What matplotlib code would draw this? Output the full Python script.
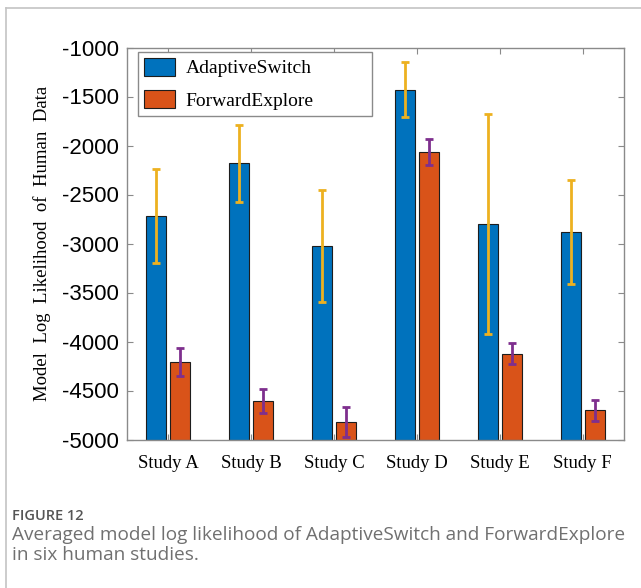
import numpy as np
import matplotlib
matplotlib.use('Agg')
import matplotlib.pyplot as plt
from matplotlib.lines import Line2D


studies = ['Study A', 'Study B', 'Study C', 'Study D', 'Study E', 'Study F']
adaptive_mean = [-2715, -2183, -3024, -1430, -2799, -2884]
adaptive_err = [480, 390, 572, 281, 1122, 534]
forward_mean = [-4205, -4610, -4822, -2062, -4124, -4700]
forward_err = [142, 123, 151, 132, 110, 107]
y_ticks = [-1000, -1500, -2000, -2500, -3000, -3500, -4000, -4500, -5000]

BLUE = '#0072BD'
ORANGE = '#D95319'
YELLOW = '#EDB120'
PURPLE = '#7E2F8E'
AXIS_GRAY = '#8a8a8a'
BASE = -5000

W, H = 641, 588
fig = plt.figure(figsize=(W / 100, H / 100), dpi=100)

# card border on top and left
fig.add_artist(Line2D([6 / W, 1], [1 - 8 / H, 1 - 8 / H], color='#c4c4c4', lw=1.2))
fig.add_artist(Line2D([6 / W, 6 / W], [0, 1 - 8 / H], color='#c4c4c4', lw=1.2))

ax = fig.add_axes([127 / W, 1 - 439.5 / H, (624 - 127) / W, (439.5 - 47.5) / H])

x = np.arange(1, len(studies) + 1)
width = 0.24
offset = 0.145

# bars rise from the bottom of the axis
ax.bar(x - offset, np.array(adaptive_mean) - BASE, width, bottom=BASE, color=BLUE,
       edgecolor='#1d1d1d', linewidth=0.8, label='AdaptiveSwitch', zorder=2)
ax.bar(x + offset, np.array(forward_mean) - BASE, width, bottom=BASE, color=ORANGE,
       edgecolor='#1d1d1d', linewidth=0.8, label='ForwardExplore', zorder=2)

ax.errorbar(x - offset, adaptive_mean, yerr=adaptive_err, fmt='none',
            ecolor=YELLOW, elinewidth=2, capsize=2.6, capthick=2, zorder=3)
ax.errorbar(x + offset, forward_mean, yerr=forward_err, fmt='none',
            ecolor=PURPLE, elinewidth=2, capsize=2.6, capthick=2, zorder=3)

ax.set_xlim(0.5, 6.5)
ax.set_ylim(-5000, -1000)
ax.set_yticks(y_ticks)
ax.set_yticklabels([str(v) for v in y_ticks], family='Liberation Sans', fontsize=16)
ax.set_xticks(x)
ax.set_xticklabels(studies, family='Liberation Serif', fontsize=13.5)

ax.tick_params(axis='both', direction='in', length=4, width=0.8, color=AXIS_GRAY,
               top=True, right=True, labelcolor='black')
ax.tick_params(axis='x', pad=11)
ax.tick_params(axis='y', pad=6)
for s in ax.spines.values():
    s.set_color(AXIS_GRAY)
    s.set_linewidth(1.0)

ax.set_ylabel('Model  Log  Likelihood  of  Human  Data', family='Liberation Serif',
              fontsize=13.5, labelpad=8)

leg = ax.legend(loc='upper left', mode='expand',
                bbox_to_anchor=(138 / W, 1 - 121 / H, (372 - 138) / W, 69 / H),
                bbox_transform=fig.transFigure, prop={'family': 'Liberation Serif', 'size': 14},
                fancybox=False, edgecolor=AXIS_GRAY, framealpha=1, borderpad=0.3,
                handlelength=1.6, handleheight=1.05, handletextpad=0.55, labelspacing=0.65,
                borderaxespad=0)
leg.get_frame().set_linewidth(1.0)

fig.text(12 / W, 1 - 516 / H, 'FIGURE 12', family='Open Sans', fontsize=10.5,
         color='#555555', fontweight='semibold', va='center')
fig.text(12 / W, 1 - 535 / H, 'Averaged model log likelihood of AdaptiveSwitch and ForwardExplore',
         family='Open Sans', fontsize=13.7, color='#707070', va='center')
fig.text(12 / W, 1 - 555 / H, 'in six human studies.',
         family='Open Sans', fontsize=13.7, color='#707070', va='center')

fig.savefig('out.png', dpi=100)
